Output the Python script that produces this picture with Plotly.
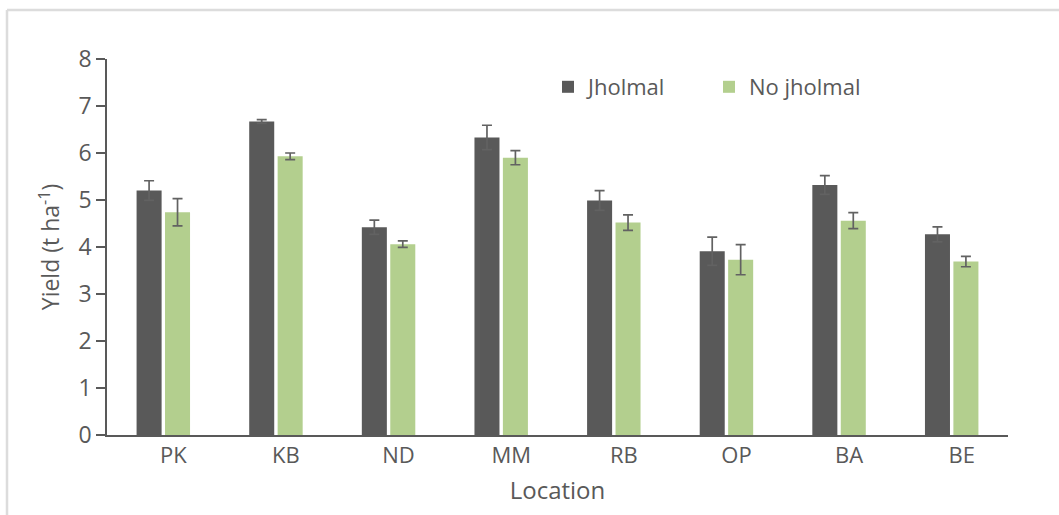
import plotly.graph_objects as go

locations = ["PK", "KB", "ND", "MM", "RB", "OP", "BA", "BE"]
jholmal = [5.20, 6.67, 4.42, 6.33, 4.99, 3.91, 5.32, 4.27]
jholmal_err = [0.21, 0.04, 0.15, 0.26, 0.21, 0.30, 0.20, 0.16]
no_jholmal = [4.74, 5.93, 4.06, 5.90, 4.52, 3.73, 4.56, 3.69]
no_jholmal_err = [0.29, 0.07, 0.07, 0.15, 0.165, 0.32, 0.17, 0.11]
y_ticks = [0, 1, 2, 3, 4, 5, 6, 7, 8]

DARK = "#595959"
GREEN = "#b3cf8e"
TEXT = "#595959"
FONT = "Open Sans"

W, H = 1059, 515
ML, MR, MT, MB = 107, 51, 59, 80
PW = W - ML - MR
PH = H - MT - MB

fig = go.Figure()
fig.add_trace(go.Bar(
    x=locations, y=jholmal, name="Jholmal",
    marker=dict(color=DARK, line=dict(width=0)),
    error_y=dict(type="data", array=jholmal_err, visible=True,
                 color="#626262", thickness=1.7, width=5),
))
fig.add_trace(go.Bar(
    x=locations, y=no_jholmal, name="No jholmal",
    marker=dict(color=GREEN, line=dict(width=0)),
    error_y=dict(type="data", array=no_jholmal_err, visible=True,
                 color="#626262", thickness=1.7, width=5),
))

def px_x(px):
    return (px - ML) / PW

def px_y(py):
    return (H - MB - py) / PH

frame = dict(color="#dcdcdc", width=2.5)
shapes = [
    dict(type="line", xref="paper", yref="paper",
         x0=px_x(7), x1=px_x(W + 5), y0=px_y(10), y1=px_y(10), line=frame),
    dict(type="line", xref="paper", yref="paper",
         x0=px_x(7), x1=px_x(7), y0=px_y(10), y1=px_y(H + 5), line=frame),
]

fig.update_layout(
    width=W, height=H,
    margin=dict(l=ML, r=MR, t=MT, b=MB, pad=0),
    paper_bgcolor="white", plot_bgcolor="white",
    font=dict(family=FONT, color=TEXT, size=22),
    barmode="group", bargap=0.495, bargroupgap=0.12,
    showlegend=True,
    legend=dict(orientation="h", x=px_x(548), y=px_y(87), xanchor="left",
                yanchor="middle", font=dict(size=22, color=TEXT),
                entrywidth=116, entrywidthmode="pixels",
                itemwidth=30, bgcolor="rgba(0,0,0,0)"),
    shapes=shapes,
    xaxis=dict(
        showline=True, linecolor=DARK, linewidth=2,
        ticks="", showgrid=False, zeroline=False,
        tickfont=dict(size=22, color=TEXT, family=FONT),
        ticklabelshift=10,
        title=dict(text="Location", font=dict(size=24, color=TEXT, family=FONT),
                   standoff=14),
    ),
    yaxis=dict(
        range=[0, 8], tickvals=y_ticks, showline=True, linecolor=DARK,
        linewidth=1.5, ticks="outside", ticklen=9, tickwidth=1.5,
        tickcolor=DARK, showgrid=False, zeroline=False,
        tickfont=dict(size=23, color=TEXT, family=FONT),
        title=dict(text="Yield (t ha<sup>-1</sup>)",
                   font=dict(size=23, color=TEXT, family=FONT), standoff=12),
    ),
)

fig.write_html("out.html")
